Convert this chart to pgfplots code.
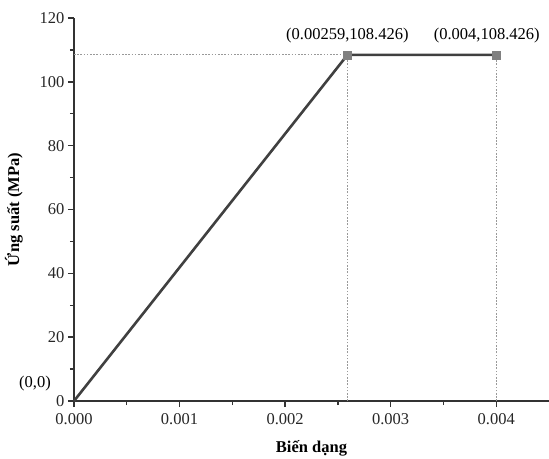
\documentclass[border=0pt]{standalone}
\usepackage{pgfplots}
\pgfplotsset{compat=1.18}
\usepackage{fontspec}
\setmainfont{Liberation Serif}
\definecolor{linegray}{HTML}{404040}
\definecolor{markgray}{HTML}{808080}
\definecolor{dotgray}{HTML}{999999}
\begin{document}
\begin{tikzpicture}
\begin{axis}[
  scale only axis,
  width=475pt, height=383pt,
  xmin=0, xmax=0.0045,
  ymin=0, ymax=120,
  axis lines=left,
  axis line style={-, line width=1.4pt, color=black!80},
  tick align=outside,
  major tick length=6pt,
  minor tick length=4pt,
  tick style={line width=1.4pt, color=black!80},
  minor tick num=1,
  xtick={0,0.001,0.002,0.003,0.004},
  ytick={0,20,40,60,80,100,120},
  scaled x ticks=false,
  xticklabel style={yshift=-3pt, /pgf/number format/fixed, /pgf/number format/fixed zerofill, /pgf/number format/precision=3},
  /pgf/number format/assume math mode=true,
  tick label style={font=\fontsize{16.5}{18}\selectfont, color=black!85},
  xlabel={\textbf{Biến dạng}},
  ylabel={\textbf{Ứng suất (MPa)}},
  label style={font=\fontsize{16.5}{18}\selectfont},
  xlabel style={yshift=-9pt},
  ylabel style={yshift=10pt},
  clip=false,
]
\addplot[dotgray, dash pattern=on 1.6pt off 1.6pt, line width=1pt, forget plot] coordinates {(0,108.426) (0.00259,108.426)};
\addplot[dotgray, dash pattern=on 1.6pt off 1.6pt, line width=1pt, forget plot] coordinates {(0.00259,0) (0.00259,108.426)};
\addplot[dotgray, dash pattern=on 1.6pt off 1.6pt, line width=1pt, forget plot] coordinates {(0.004,0) (0.004,108.426)};
\addplot[linegray, line width=2.6pt, mark=none] coordinates {(0,0) (0.00259,108.426) (0.004,108.426)};
\addplot[only marks, mark=square*, mark size=3.8pt, mark options={fill=markgray, draw=markgray}] coordinates {(0.00259,108.426) (0.004,108.426)};
\node[font=\fontsize{16.5}{18}\selectfont, anchor=south] at (axis cs:0.00259,111) {(0.00259,108.426)};
\node[font=\fontsize{16.5}{18}\selectfont, anchor=south] at (axis cs:0.00391,111) {(0.004,108.426)};
\node[font=\fontsize{16.5}{18}\selectfont] at (axis cs:-0.00037,5.5) {(0,0)};
\end{axis}
\pgfresetboundingbox
\useasboundingbox ([xshift=-74pt,yshift=-57pt]current axis.south west) rectangle ([yshift=18pt]current axis.north east);
\end{tikzpicture}
\end{document}
